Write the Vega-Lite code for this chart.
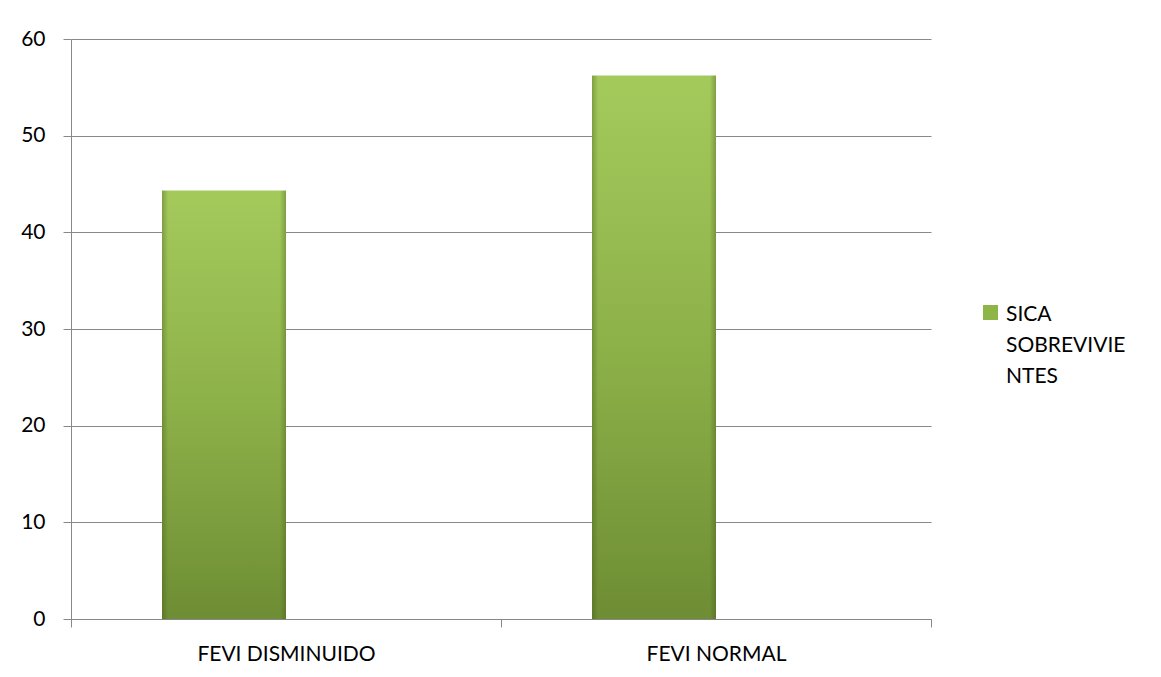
{
  "$schema": "https://vega.github.io/schema/vega-lite/v6.json",
  "width": 860,
  "height": 580,
  "autosize": "none",
  "padding": {"left": 71, "top": 39, "right": 230, "bottom": 58},
  "background": "white",
  "config": {"view": {"stroke": null}, "font": "Lato"},
  "data": {
    "values": [
      {"categoria": "FEVI DISMINUIDO", "valor": 44.3, "serie": "SICA SOBREVIVIENTES"},
      {"categoria": "FEVI NORMAL", "valor": 56.2, "serie": "SICA SOBREVIVIENTES"}
    ]
  },
  "encoding": {
    "x": {
      "field": "categoria",
      "type": "nominal",
      "sort": null,
      "scale": {"paddingInner": 0, "paddingOuter": 0},
      "axis": {
        "title": null,
        "labelAngle": 0,
        "tickBand": "extent",
        "tickSize": 8,
        "tickColor": "#888888",
        "domainColor": "#888888",
        "labelFontSize": 21,
        "labelColor": "#000000",
        "labelPadding": 16
      }
    },
    "xOffset": {
      "field": "serie",
      "type": "nominal",
      "scale": {"domain": ["SICA SOBREVIVIENTES", "OTRA"], "paddingInner": 0, "paddingOuter": 0.734}
    },
    "y": {
      "field": "valor",
      "type": "quantitative",
      "scale": {"domain": [0, 60], "nice": false},
      "axis": {
        "title": null,
        "values": [0, 10, 20, 30, 40, 50, 60],
        "tickSize": 8,
        "tickColor": "#888888",
        "domainColor": "#888888",
        "grid": true,
        "gridColor": "#888888",
        "gridOpacity": 1,
        "labelFontSize": 21,
        "labelColor": "#000000",
        "labelPadding": 18
      }
    }
  },
  "layer": [
    {
      "mark": {"type": "bar"},
      "encoding": {
        "color": {
          "field": "serie",
          "type": "nominal",
          "scale": {"range": ["#8db548"]},
          "legend": {
            "title": null,
            "orient": "none",
            "legendX": 909,
            "legendY": 263,
            "padding": 0,
            "symbolType": "square",
            "symbolSize": 225,
            "symbolStrokeWidth": 0,
            "labelFontSize": 21,
            "labelColor": "#000000",
            "labelLimit": 0,
            "labelOffset": 5,
            "labelBaseline": "alphabetic",
            "labelExpr": "['SICA', 'SOBREVIVIE', 'NTES']",
            "encode": {"labels": {"update": {"dy": {"value": 8}, "lineHeight": {"value": 31}}}}
          }
        }
      }
    },
    {
      "mark": {
        "type": "bar",
        "fill": {
          "gradient": "linear",
          "x1": 0, "y1": 0, "x2": 0, "y2": 1,
          "stops": [
            {"offset": 0, "color": "#a4ca5c"},
            {"offset": 0.5, "color": "#8db149"},
            {"offset": 1, "color": "#6e8d34"}
          ]
        }
      }
    },
    {
      "mark": {
        "type": "bar",
        "fill": {
          "gradient": "linear",
          "x1": 0, "y1": 0, "x2": 1, "y2": 0,
          "stops": [
            {"offset": 0, "color": "rgba(60,80,20,0.35)"},
            {"offset": 0.05, "color": "rgba(60,80,20,0)"},
            {"offset": 0.95, "color": "rgba(60,80,20,0)"},
            {"offset": 1, "color": "rgba(60,80,20,0.35)"}
          ]
        }
      }
    }
  ]
}
